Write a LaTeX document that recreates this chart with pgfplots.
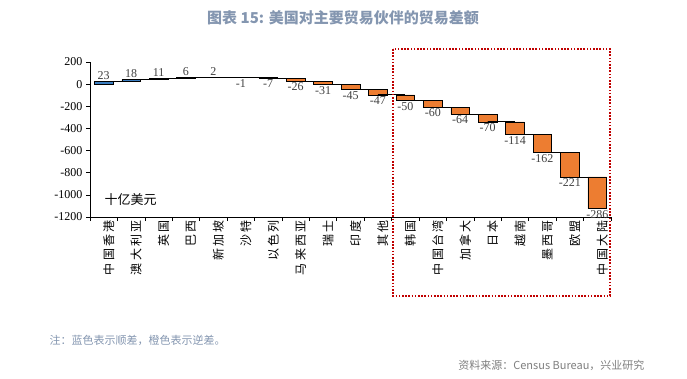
\documentclass[border=0pt]{standalone}
\usepackage{pgfplots}
\pgfplotsset{compat=1.18}
\usepackage{fontspec}
\setmainfont{Liberation Serif}
\newfontfamily\cjk{Noto Sans CJK SC}
\newfontfamily\cjklab[LetterSpace=18]{Noto Sans CJK SC}
\definecolor{bblue}{HTML}{3A7DC0}
\definecolor{borange}{HTML}{ED7D31}
\definecolor{titlec}{HTML}{8496B0}
\definecolor{lab}{HTML}{404040}
\definecolor{srcc}{HTML}{7F7F7F}
\definecolor{boxred}{HTML}{C00000}
\begin{document}
\begin{tikzpicture}
\path[use as bounding box] (0pt,0pt) rectangle (687pt,-379pt);
\pgfplotsset{common/.style={scale only axis, width=521pt, height=155pt,
  at={(90pt,-217pt)}, anchor=south west,
  xmin=-0.5, xmax=18.5, ymin=-1200, ymax=200, clip=false}}
\begin{axis}[common, ybar stacked, stack negative=on previous, bar width=0.68,
  axis lines*=left, axis line style={line width=0.6pt},
  tick align=outside, major tick length=4pt,
  tick style={black, line width=0.6pt},
  xtick={-0.5,0.5,...,18.5}, xticklabels={},
  extra x ticks={0,1,...,18},
  extra x tick labels={中国香港,澳大利亚,英国,巴西,新加坡,沙特,以色列,马来西亚,瑞士,印度,其他,韩国,中国台湾,加拿大,日本,越南,墨西哥,欧盟,中国大陆},
  extra x tick style={major tick length=0pt, tick style={draw=none},
    xticklabel style={rotate=90, anchor=east, yshift=-5pt,
    font=\cjklab\fontsize{12}{12}\selectfont}},
  ytick={-1200,-1000,-800,-600,-400,-200,0,200},
  yticklabels={-1200,-1000,-800,-600,-400,-200,0,200},
  yticklabel style={font=\fontsize{12}{12}\selectfont},
]
\addplot[draw=none, fill=none] coordinates {(0,0)(1,23)(2,41)(3,52)(4,58)(5,60)(6,59)(7,52)(8,26)(9,-5)(10,-50)(11,-97)(12,-147)(13,-207)(14,-271)(15,-341)(16,-455)(17,-617)(18,-838)};
\addplot[fill=bblue, draw=black, line width=0.6pt] coordinates {(0,23)(1,18)(2,11)(3,6)(4,2)(5,0)(6,0)(7,0)(8,0)(9,0)(10,0)(11,0)(12,0)(13,0)(14,0)(15,0)(16,0)(17,0)(18,0)};
\addplot[fill=borange, draw=black, line width=0.6pt] coordinates {(0,0)(1,0)(2,0)(3,0)(4,0)(5,-1)(6,-7)(7,-26)(8,-31)(9,-45)(10,-47)(11,-50)(12,-60)(13,-64)(14,-70)(15,-114)(16,-162)(17,-221)(18,-286)};
\node[anchor=west, font=\cjk\fontsize{13}{13}\selectfont] at (axis cs:-0.1,-1045) {十亿美元};
\end{axis}
\begin{axis}[common, hide axis]
\addplot[black, line width=0.8pt, jump mark left] coordinates {(0,23)(1,41)(2,52)(3,58)(4,60)(5,59)(6,52)(7,26)(8,-5)(9,-50)(10,-97)(11,-147)(12,-207)(13,-271)(14,-341)(15,-455)(16,-617)(17,-838)(18,-1124)};
\addplot[only marks, mark=*, mark size=0.01pt, mark options={draw=none, fill=none},
  nodes near coords, point meta=explicit symbolic,
  nodes near coords style={anchor=south, inner sep=1.5pt, text=lab, font=\fontsize{12}{12}\selectfont}]
  coordinates {(0,23)[23] (1,41)[18] (2,52)[11] (3,58)[6] (4,60)[2]};
\addplot[only marks, mark=*, mark size=0.01pt, mark options={draw=none, fill=none},
  nodes near coords, point meta=explicit symbolic,
  nodes near coords style={anchor=north, inner sep=1.5pt, text=lab, font=\fontsize{12}{12}\selectfont}]
  coordinates {(5,59)[-1] (6,52)[-7] (7,26)[-26] (8,-5)[-31] (9,-50)[-45] (10,-97)[-47] (11,-147)[-50] (12,-207)[-60] (13,-271)[-64] (14,-341)[-70] (15,-455)[-114] (16,-617)[-162] (17,-838)[-221] (18,-1124)[-286]};
\end{axis}
\draw[boxred, line width=1.8pt, dash pattern=on 1.6pt off 1.6pt] (393pt,-49pt) rectangle (610pt,-296pt);
\node[font=\cjk\bfseries\fontsize{15}{15}\selectfont, text=titlec] at (343pt,-18pt) {图表 15: 美国对主要贸易伙伴的贸易差额};
\node[anchor=west, font=\cjk\fontsize{11}{11}\selectfont, text=titlec] at (46pt,-340pt) {注：蓝色表示顺差，橙色表示逆差。};
\node[anchor=east, font=\cjk\fontsize{11}{11}\selectfont, text=srcc] at (648pt,-365pt) {资料来源：Census Bureau，兴业研究};
\end{tikzpicture}
\end{document}
